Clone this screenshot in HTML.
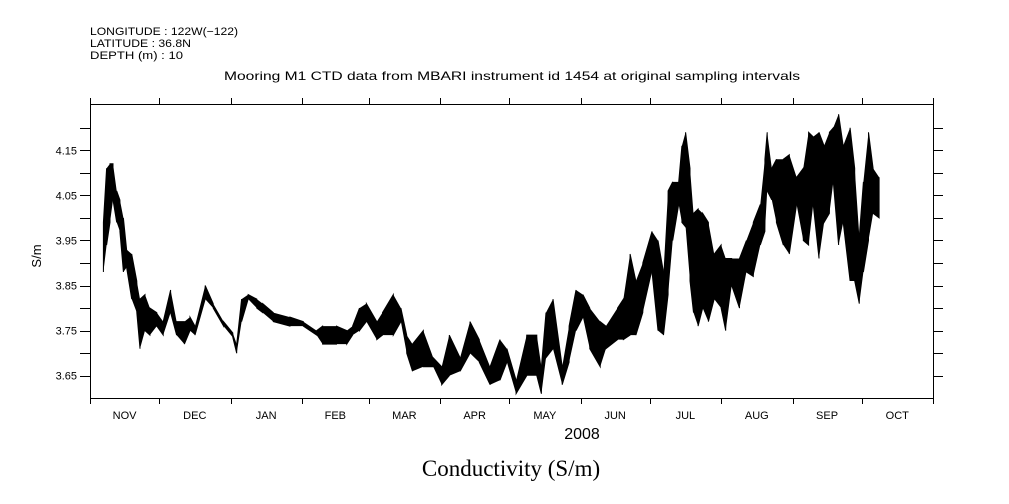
<!DOCTYPE html>
<html><head><meta charset="utf-8"><style>
body{margin:0;background:#fff}
svg{display:block;font-family:"Liberation Sans",sans-serif}
</style></head><body>
<svg id="chart" width="1009" height="504" viewBox="0 0 1009 504" xmlns="http://www.w3.org/2000/svg">
<rect width="1009" height="504" fill="#fff"/>
<g font-size="11" fill="#000">
<text x="90" y="35" textLength="148" lengthAdjust="spacingAndGlyphs">LONGITUDE : 122W(−122)</text>
<text x="90" y="47" textLength="101" lengthAdjust="spacingAndGlyphs">LATITUDE : 36.8N</text>
<text x="90" y="59" textLength="93" lengthAdjust="spacingAndGlyphs">DEPTH (m) : 10</text>
</g>
<text x="224" y="80" font-size="12" textLength="576" lengthAdjust="spacingAndGlyphs">Mooring M1 CTD data from MBARI instrument id 1454 at original sampling intervals</text>
<g id="axes"></g>
<g id="series"></g>
<text transform="translate(41,256) rotate(-90)" font-size="13" text-anchor="middle">S/m</text>
<text x="582" y="439" font-size="16" text-anchor="middle">2008</text>
<text x="511" y="476" font-size="23" font-family="Liberation Serif, serif" text-anchor="middle">Conductivity (S/m)</text>
</svg>
<script>
const months = ["NOV","DEC","JAN","FEB","MAR","APR","MAY","JUN","JUL","AUG","SEP","OCT"];
const monthDays = [30,31,31,29,31,30,31,30,31,31,30,31];
const yTickValues = [3.65,3.75,3.85,3.95,4.05,4.15];
const yMinorValues = [3.70,3.80,3.90,4.00,4.10,4.20];
const days = [5.8,7.2,8.7,10,11.6,13,14.5,15.9,18.1,20.3,21.7,23.9,26,29,31.8,35,37.6,41,43.4,45.6,50,53.5,58,62,63.7,65.8,68.7,72.4,75,79.6,86.8,92.6,98.4,101,107,111.5,114,117,120,124.5,127,131.7,135,137.5,140,144.7,149,152.7,156,160.7,165,169,173.7,178,181,185,189.6,194,196,198,201,205,208,211,214,217,221.5,224,229,231.6,234.5,237,240,244,246.6,249,251,253,255.6,257,258.6,260.5,262,264,266,268.5,271,274,276,278.6,282,285,288,291,293,294,296,298,301,303.6,306.8,309.7,312,314,316.5,318.7,321,322.7,325,327,330,332,334,335.8,338,340,342.6];
const hiValues = [3.99,4.11,4.12,4.12,4.06,4.04,4.00,3.93,3.92,3.86,3.82,3.83,3.80,3.79,3.77,3.84,3.77,3.77,3.78,3.76,3.85,3.81,3.77,3.745,3.72,3.82,3.83,3.82,3.81,3.79,3.78,3.77,3.75,3.76,3.76,3.75,3.76,3.80,3.81,3.77,3.79,3.83,3.80,3.74,3.72,3.75,3.69,3.67,3.74,3.69,3.77,3.73,3.67,3.73,3.71,3.64,3.74,3.74,3.67,3.79,3.82,3.67,3.76,3.84,3.83,3.80,3.77,3.76,3.80,3.82,3.92,3.86,3.90,3.97,3.95,3.88,4.06,4.08,4.08,4.16,4.19,4.11,4.01,4.02,4.01,3.99,3.92,3.94,3.91,3.91,3.91,3.95,3.99,4.03,4.13,4.19,4.11,4.13,4.13,4.14,4.09,4.11,4.19,4.18,4.19,4.16,4.19,4.20,4.23,4.16,4.20,4.11,3.96,4.08,4.19,4.11,4.09];
const loValues = [3.88,3.94,3.99,4.04,3.99,3.97,3.88,3.89,3.82,3.79,3.71,3.75,3.74,3.76,3.74,3.79,3.74,3.72,3.75,3.74,3.82,3.80,3.76,3.735,3.70,3.77,3.82,3.80,3.79,3.77,3.76,3.76,3.74,3.72,3.72,3.72,3.74,3.75,3.77,3.73,3.74,3.74,3.77,3.70,3.66,3.67,3.67,3.63,3.65,3.66,3.70,3.68,3.63,3.64,3.68,3.61,3.65,3.65,3.61,3.69,3.71,3.63,3.68,3.75,3.78,3.71,3.67,3.71,3.73,3.73,3.74,3.74,3.79,3.88,3.75,3.74,3.83,3.95,4.03,3.99,3.98,3.86,3.79,3.76,3.80,3.77,3.82,3.80,3.75,3.85,3.80,3.88,3.87,3.94,3.97,4.06,4.04,3.99,3.94,3.92,4.03,3.95,3.94,4.03,3.91,3.99,4.01,4.08,3.94,3.99,3.86,3.86,3.81,3.88,3.95,4.01,4.00];

const NS="http://www.w3.org/2000/svg";
const X0=90,X1=933,Y0=104,Y1=398,TOTAL=366;
function xScale(d){return X0+d*(X1-X0)/TOTAL;}
function yScale(v){return 150.3+(4.15-v)*450.8;}
function mk(tag,attrs,parent){const e=document.createElementNS(NS,tag);for(const k in attrs)e.setAttribute(k,attrs[k]);parent.appendChild(e);return e;}
const axesG=document.getElementById('axes');
const frame=mk('rect',{x:X0+0.5,y:Y0+0.5,width:X1-X0,height:Y1-Y0,fill:'none',stroke:'#000','stroke-width':1},axesG);


let cum=0;
for(let i=0;i<=months.length;i++){
  const x=Math.round(xScale(cum))+0.5;
  const tb=mk('line',{x1:x,x2:x,y1:Y1,y2:Y1+6,stroke:'#000'},axesG);
  
  
  const tt=mk('line',{x1:x,x2:x,y1:Y0,y2:Y0-6,stroke:'#000'},axesG);
  
  
  if(i<months.length){
    const t=mk('text',{x:xScale(cum+monthDays[i]/2),y:419,'font-size':11,'text-anchor':'middle'},axesG);
    t.textContent=months[i];
    
    
    cum+=monthDays[i];
  }
}
yTickValues.concat(yMinorValues).forEach(v=>{
  const y=Math.round(yScale(v))+0.5;
  const l=mk('line',{x1:X0-10,x2:X0,y1:y,y2:y,stroke:'#000'},axesG);
  
  
  const r=mk('line',{x1:X1,x2:X1+10,y1:y,y2:y,stroke:'#000'},axesG);
  
  
});
yTickValues.forEach(v=>{
  const t=mk('text',{x:77,y:yScale(v)+4,'font-size':11,'text-anchor':'end'},axesG);
  t.textContent=v.toFixed(2);
  
  
});
const seriesG=document.getElementById('series');
const upperPts=[],lowerPts=[],zigPts=[];
days.forEach((d,i)=>{
  const x=xScale(d).toFixed(1);
  upperPts.push(x+','+yScale(hiValues[i]).toFixed(1));
  lowerPts.unshift(x+','+yScale(loValues[i]).toFixed(1));
  zigPts.push(x+','+yScale(i%2?hiValues[i]:loValues[i]).toFixed(1));
  zigPts.push(x+','+yScale(i%2?loValues[i]:hiValues[i]).toFixed(1));
});
const band=mk('polygon',{points:upperPts.concat(lowerPts).join(' '),fill:'#000',stroke:'none'},seriesG);


const line=mk('polyline',{points:zigPts.join(' '),fill:'none',stroke:'#000','stroke-width':1},seriesG);


</script>
</body></html>
